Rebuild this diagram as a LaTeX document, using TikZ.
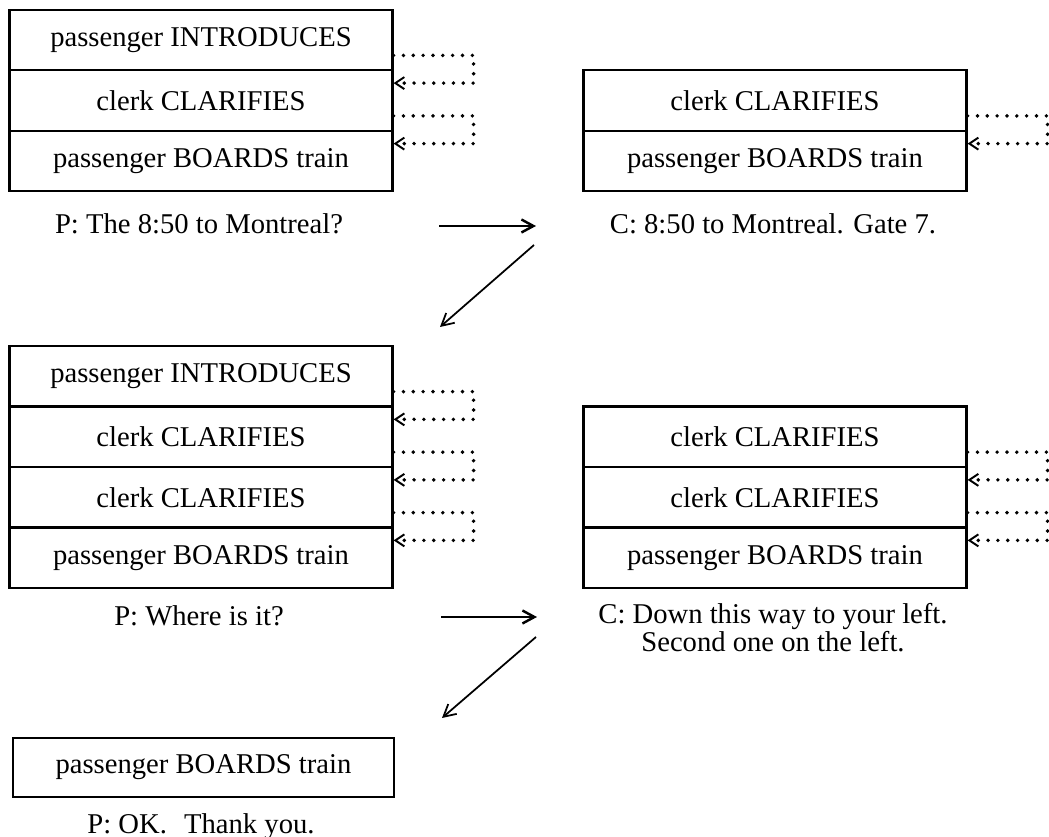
\documentclass[tikz,border=0pt]{standalone}
\usepackage{fontspec}
\setmainfont{Liberation Serif}
\usetikzlibrary{arrows.meta}

\begin{document}
\begin{tikzpicture}[x=0.02cm, y=-0.02cm,
  font=\fontsize{16.3}{16}\selectfont,
  row/.style={draw, line width=1.3pt, minimum width=7.66cm, minimum height=1.21cm, inner sep=0pt},
  caption/.style={anchor=north, inner sep=0pt, align=center},
  talk/.style={-{Straight Barb[length=2.4mm,width=2.6mm]}, line width=1.4pt},
  recur/.style={-{Straight Barb[length=1.8mm,width=2.4mm,line width=1.1pt]}, line width=2.2pt, line cap=round, dash pattern=on 0pt off 5.6pt}]

  \useasboundingbox (0,0) rectangle (1049,837);

  % first exchange
  \node[row] (b1r1) at (201,40)    {passenger INTRODUCES};
  \node[row] (b1r2) at (201,100.5) {clerk CLARIFIES};
  \node[row] (b1r3) at (201,161)   {passenger BOARDS train};
  \node[caption] (p1) at (199,213) {P: The 8:50 to Montreal?};

  \node[row] (b2r1) at (775,100.5) {clerk CLARIFIES};
  \node[row] (b2r2) at (775,161)   {passenger BOARDS train};
  \node[caption] (c1) at (773,213) {C: 8:50 to Montreal. Gate 7.};

  \draw[recur] ([yshift=0.32cm]b1r1.south east) -- ++(80,0) |- ([yshift=-0.28cm]b1r2.north east);
  \draw[recur] ([yshift=0.32cm]b1r2.south east) -- ++(80,0) |- ([yshift=-0.28cm]b1r3.north east);
  \draw[recur] ([yshift=0.32cm]b2r1.south east) -- ++(80,0) |- ([yshift=-0.28cm]b2r2.north east);

  \coordinate (h1s) at (439,226);
  \coordinate (h1e) at (536,226);
  \coordinate (d1s) at (534,245);
  \coordinate (d1e) at (440,327);
  \draw[talk] (h1s) -- (h1e);
  \draw[talk, line width=1pt] (d1s) -- (d1e);

  % second exchange
  \node[row] (b3r1) at (201,376.25) {passenger INTRODUCES};
  \node[row] (b3r2) at (201,436.75) {clerk CLARIFIES};
  \node[row] (b3r3) at (201,497.25) {clerk CLARIFIES};
  \node[row] (b3r4) at (201,557.75) {passenger BOARDS train};
  \node[caption] (p2) at (199,605) {P: Where is it?};

  \node[row] (b4r1) at (775,436.75) {clerk CLARIFIES};
  \node[row] (b4r2) at (775,497.25) {clerk CLARIFIES};
  \node[row] (b4r3) at (775,557.75) {passenger BOARDS train};
  \node[caption] (c2) at (773,603) {C: Down this way to your left.\\Second one on the left.};

  \draw[recur] ([yshift=0.32cm]b3r1.south east) -- ++(80,0) |- ([yshift=-0.28cm]b3r2.north east);
  \draw[recur] ([yshift=0.32cm]b3r2.south east) -- ++(80,0) |- ([yshift=-0.28cm]b3r3.north east);
  \draw[recur] ([yshift=0.32cm]b3r3.south east) -- ++(80,0) |- ([yshift=-0.28cm]b3r4.north east);
  \draw[recur] ([yshift=0.32cm]b4r1.south east) -- ++(80,0) |- ([yshift=-0.28cm]b4r2.north east);
  \draw[recur] ([yshift=0.32cm]b4r2.south east) -- ++(80,0) |- ([yshift=-0.28cm]b4r3.north east);

  \coordinate (h2s) at (441,617);
  \coordinate (h2e) at (537,617);
  \coordinate (d2s) at (536,637);
  \coordinate (d2e) at (442,718);
  \draw[talk] (h2s) -- (h2e);
  \draw[talk, line width=1pt] (d2s) -- (d2e);

  % last turn
  \node[row, minimum width=7.62cm, minimum height=1.18cm] (b5r1) at (203.5,767.5) {passenger BOARDS train};
  \node[caption] (p3) at (201,813) {P: OK.\hspace{0.6em}Thank you.};

\end{tikzpicture}
\end{document}
